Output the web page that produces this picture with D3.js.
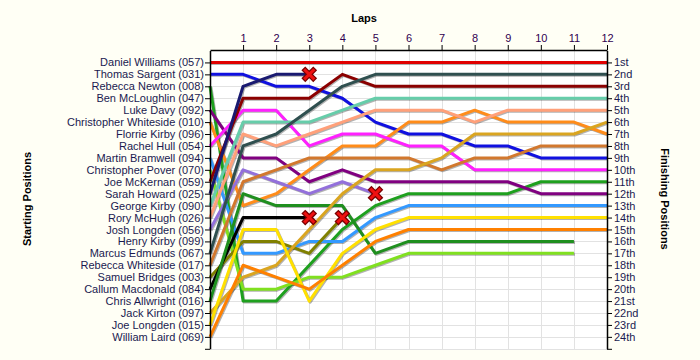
<!DOCTYPE html>
<html><head><meta charset="utf-8">
<script src="https://cdn.jsdelivr.net/npm/d3@7"></script>
<style>
body{margin:0;background:#fffff5;}
svg{display:block;font-family:"Liberation Sans",Arial,sans-serif;}
</style>
</head><body>
<svg id="chart" width="700" height="360"></svg>
<script>
// ---- data ----
const laps = [0,1,2,3,4,5,6,7,8,9,10,11,12];
const drivers = [
  "Daniel Williams (057)","Thomas Sargent (031)","Rebecca Newton (008)","Ben McLoughlin (047)",
  "Luke Davy (092)","Christopher Whiteside (010)","Florrie Kirby (096)","Rachel Hull (054)",
  "Martin Bramwell (094)","Christopher Pover (070)","Joe McKernan (059)","Sarah Howard (025)",
  "George Kirby (090)","Rory McHugh (026)","Josh Longden (056)","Henry Kirby (099)",
  "Marcus Edmunds (067)","Rebecca Whiteside (017)","Samuel Bridges (003)","Callum Macdonald (084)",
  "Chris Allwright (016)","Jack Kirton (097)","Joe Longden (015)","William Laird (069)"
];
const finishLabels = ["1st","2nd","3rd","4th","5th","6th","7th","8th","9th","10th","11th","12th",
  "13th","14th","15th","16th","17th","18th","19th","20th","21st","22nd","23rd","24th"];
const lineColors = [
  "#e00000","#1010e0","#1ea01e",null,
  "#800080","#ff8c1a",null,"#ff20ff",
  "#3399ff","#80e020","#8b0000","#191970",
  "#66cdaa","#ffa07a","#9370db",null,
  "#2f4f4f","#d2782e","#808000","#000000",
  "#1f8f1f","#daa520","#ffe000","#ff8000"
];
// position at each lap (index 0 = start); empty = no laps recorded
const lapPositions = [
  [1,1,1,1,1,1,1,1,1,1,1,1,1],
  [2,2,3,3,4,6,7,7,8,8,9,9,9],
  [3,21,21,18,15,13,12,12,12,12,11,11,11],
  [],
  [5,9,9,11,10,11,11,11,11,11,12,12,12],
  [6,13,12,10,8,8,6,6,5,6,6,6,7],
  [],
  [8,5,5,8,7,7,8,8,10,10,10,10,10],
  [9,17,17,16,16,14,13,13,13,13,13,13,13],
  [10,20,20,19,19,18,17,17,17,17,17,17],
  [11,4,4,4,2,3,3,3,3,3,3,3,3],
  [12,3,2,2],
  [13,6,6,6,5,4,4,4,4,4,4,4,4],
  [14,7,8,7,6,5,5,5,6,5,5,5,5],
  [15,10,11,12,11,12],
  [],
  [17,8,7,5,3,2,2,2,2,2,2,2,2],
  [18,11,10,9,9,9,9,10,9,9,8,8,8],
  [19,16,16,17,14],
  [20,14,14,14],
  [21,12,13,13,13,17,16,16,16,16,16,16],
  [22,19,18,15,12,10,10,9,7,7,7,7,6],
  [23,15,15,21,17,15,14,14,14,14,14,14,14],
  [24,18,19,20,18,16,15,15,15,15,15,15,15]
];
const retired = [false,false,false,false,false,false,false,false,false,false,false,true,
  false,false,true,false,false,false,true,true,false,false,false,false];

// ---- chart ----
const svg = d3.select("#chart");
const pL = 210, pR = 607, pT = 50, pB = 349;
const x = d3.scaleLinear().domain([0,12]).range([pL,pR]);
const y = d3.scaleLinear().domain([0,25]).range([50.5,348.8]);

svg.append("rect").attr("x",pL).attr("y",pT).attr("width",pR-pL).attr("height",pB-pT).attr("fill","#ffffff");

const grid = svg.append("g").attr("stroke","#e2e2e2").attr("stroke-width",1);
grid.selectAll("line.v").data(laps.slice(1,12)).join("line")
  .attr("x1",d=>Math.round(x(d))+0.5).attr("x2",d=>Math.round(x(d))+0.5).attr("y1",pT).attr("y2",pB);
grid.selectAll("line.h").data(d3.range(1,26)).join("line")
  .attr("x1",pL).attr("x2",pR).attr("y1",d=>Math.round(y(d))+0.5).attr("y2",d=>Math.round(y(d))+0.5);

const line = d3.line().x((d,i)=>x(laps[i])).y(d=>y(d)).defined(d=>d!=null);
const series = drivers.map((n,i)=>({name:n,color:lineColors[i],pos:lapPositions[i],ret:retired[i]}))
  .filter(d=>d.color && d.pos.length>1);

const lines = svg.append("g");
lines.selectAll("path.sh").data(series).join("path")
  .attr("d",d=>line(d.pos)).attr("fill","none").attr("stroke","rgba(0,0,0,0.3)")
  .attr("stroke-width",3).attr("transform","translate(1,1)").attr("stroke-linejoin","round");
lines.selectAll("path.ln").data(series).join("path")
  .attr("d",d=>line(d.pos)).attr("fill","none").attr("stroke",d=>d.color)
  .attr("stroke-width",3).attr("stroke-linejoin","round");

const marks = svg.append("g").selectAll("g").data(series.filter(d=>d.ret)).join("g")
  .attr("transform",d=>`translate(${x(laps[d.pos.length-1])},${y(d.pos[d.pos.length-1])})`);
marks.append("path").attr("d","M-4,-4L4,4M4,-4L-4,4").attr("stroke","#700").attr("stroke-width",5.5).attr("stroke-linecap","square");
marks.append("path").attr("d","M-4,-4L4,4M4,-4L-4,4").attr("stroke","#ee1111").attr("stroke-width",3).attr("stroke-linecap","square");

const axL = d3.axisLeft(y).tickValues(d3.range(1,26)).tickSize(5).tickSizeOuter(0)
  .tickFormat(d=>d<=24?drivers[d-1]:"");
const gL = svg.append("g").attr("transform",`translate(${pL},0)`).call(axL);
const axR = d3.axisRight(y).tickValues(d3.range(1,26)).tickSize(5).tickSizeOuter(0)
  .tickFormat(d=>d<=24?finishLabels[d-1]:"");
const gR = svg.append("g").attr("transform",`translate(${pR},0)`).call(axR);
const axT = d3.axisTop(x).tickValues(laps.slice(1)).tickSize(5).tickSizeOuter(0);
const gT = svg.append("g").attr("transform",`translate(0,${pT})`).call(axT);
[gL,gR,gT].forEach(g=>{
  g.selectAll("path.domain").attr("stroke","#000").attr("stroke-width",1.5);
  g.selectAll(".tick line").attr("stroke","#000");
  g.selectAll("text").attr("font-size",11).attr("fill","#1a1a50").attr("font-family","Liberation Sans, Arial, sans-serif");
});
gT.selectAll("text").attr("fill","#300050");
gL.selectAll("text").attr("x",-6);
gR.selectAll("text").attr("x",7);

svg.append("text").attr("x",364).attr("y",22).attr("text-anchor","middle").attr("font-weight","bold").attr("font-size",11).text("Laps");
svg.append("text").attr("transform","translate(31,199) rotate(-90)").attr("text-anchor","middle").attr("font-weight","bold").attr("font-size",11).text("Starting Positions");
svg.append("text").attr("transform","translate(661,199) rotate(90)").attr("text-anchor","middle").attr("font-weight","bold").attr("font-size",11).text("Finishing Positions");
</script>
</body></html>
